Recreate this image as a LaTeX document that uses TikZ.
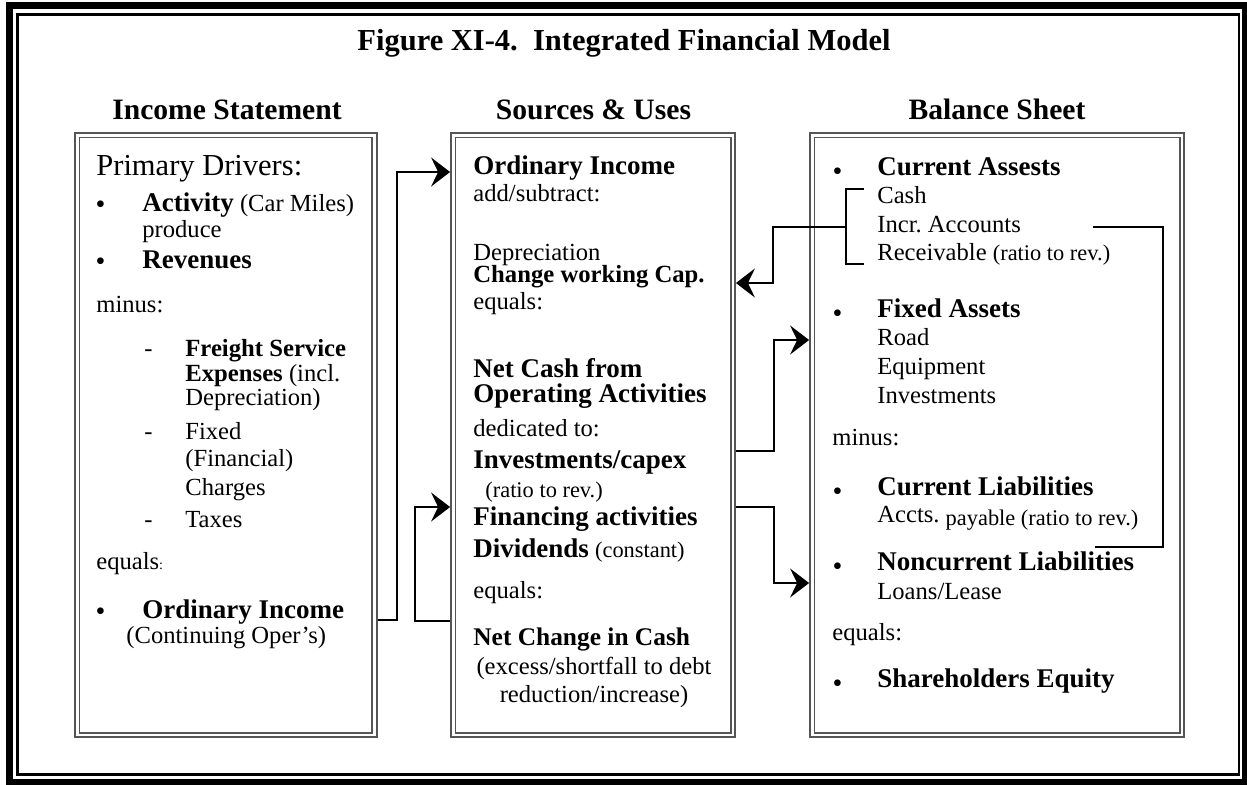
\documentclass[tikz,border=0pt]{standalone}
\usepackage{fontspec}
\setmainfont{Liberation Serif}
\usetikzlibrary{arrows.meta,fit}
\frenchspacing

\definecolor{boxgray}{RGB}{85,85,85}

% font sizes
\newcommand{\fTitle}{\fontsize{15.25}{18}\selectfont\bfseries}
\newcommand{\fHead}{\fontsize{14.8}{17}\selectfont\bfseries}
\newcommand{\fPrim}{\fontsize{15.25}{18}\selectfont}
\newcommand{\fBig}{\fontsize{13.5}{16}\selectfont\bfseries}
\newcommand{\fBold}{\fontsize{12.35}{14}\selectfont\bfseries}
\newcommand{\fTxt}{\fontsize{12.3}{14}\selectfont}
\newcommand{\fSmall}{\fontsize{11.2}{13}\selectfont}
\newcommand{\fTiny}{\fontsize{7}{8}\selectfont}

\begin{document}
\begin{tikzpicture}[x=0.5pt,y=-0.5pt,
    txt/.style={anchor=base west,inner sep=0pt,font=\fTxt},
    ctr/.style={txt,anchor=base},
    head/.style={anchor=base,inner sep=0pt,font=\fHead},
    bul/.style={anchor=base,inner sep=0pt,font=\fontsize{14}{14}\selectfont,yshift=#1},
    bul/.default=-1pt,
    panel/.style={draw=boxgray,double,line width=0.9pt,double distance=1.3pt,
        inner sep=0pt,outer sep=1.55pt},
    link/.style={line width=1pt},
    arr/.style={link,-{Stealth[length=9.5pt,width=14.5pt,inset=3.5pt]}}]
    \useasboundingbox (0,0) rectangle (1247,784);

    % frame
    \draw[line width=3.3pt] (9.5,5.5) rectangle (1245.3,782.3);
    \draw[line width=1.3pt] (17.5,14.2) rectangle (1239,774.5);

    % title and column heads
    \node[anchor=base,inner sep=0pt,font=\fTitle] (title) at (624,50)
        {Figure XI-4.\ \ Integrated Financial Model};
    \node[head] (hinc) at (227,119) {Income Statement};
    \node[head] (hsrc) at (593.5,119) {Sources \& Uses};
    \node[head] (hbal) at (997,119) {Balance Sheet};

    % the three panels
    \node[panel,fit={(77.2,135.2) (374.5,735.1)}] (inc) {};
    \node[panel,fit={(453.2,135.2) (732.8,735.1)}] (src) {};
    \node[panel,fit={(812.2,135.2) (1181.8,735.1)}] (bal) {};

    % income statement
    \node[txt,font=\fPrim] (i1) at (96,175) {Primary Drivers:};
    \node[bul] (ib1) at (100.5,211) {\textbullet};
    \node[txt] (i2) at (142,211) {{\fBig Activity} (Car Miles)};
    \node[txt] (i3) at (142,237) {produce};
    \node[bul] (ib2) at (100.5,268) {\textbullet};
    \node[txt,font=\fBig] (i4) at (142,268) {Revenues};
    \node[txt] (i5) at (96,312) {minus:};
    \node[txt] (id1) at (144,356) {-};
    \node[txt,font=\fBold] (i6) at (185,356) {Freight Service};
    \node[txt] (i7) at (185,381) {{\fBold Expenses} (incl.};
    \node[txt] (i8) at (185,405) {Depreciation)};
    \node[txt] (id2) at (144,439) {-};
    \node[txt] (i9) at (185,439) {Fixed};
    \node[txt] (i10) at (185,466) {(Financial)};
    \node[txt] (i11) at (185,495) {Charges};
    \node[txt] (id3) at (144,527) {-};
    \node[txt] (i12) at (185,527) {Taxes};
    \node[txt] (i13) at (96,569) {equals{\fTiny :}};
    \node[bul] (ib3) at (100.5,618) {\textbullet};
    \node[txt,font=\fBig] (oiL) at (142,618) {Ordinary Income};
    \node[txt] (i14) at (126,643) {(Continuing Oper's)};

    % sources and uses
    \node[txt,font=\fBig] (oiM) at (473,174) {Ordinary Income};
    \node[txt] (s1) at (473,201) {add/subtract:};
    \node[txt] (s2) at (473,260) {Depreciation};
    \node[txt,font=\fBold] (cwc) at (473,282) {Change working Cap.};
    \node[txt] (s3) at (473,309) {equals:};
    \node[txt,font=\fBig] (ncf) at (473,377) {Net Cash from};
    \node[txt,font=\fBig] (s4) at (473,402) {Operating Activities};
    \node[txt] (s5) at (473,436) {dedicated to:};
    \node[txt,font=\fBig] (inv) at (473,468) {Investments/capex};
    \node[txt,font=\fSmall] (s6) at (485,497) {(ratio to rev.)};
    \node[txt,font=\fBig] (fin) at (473,525) {Financing activities};
    \node[txt] (s7) at (473,557) {{\fBig Dividends} {\fSmall (constant)}};
    \node[txt] (s8) at (473,598) {equals:};
    \node[txt,font={\fontsize{12.7}{15}\selectfont\bfseries}] (nch) at (473,645)
        {Net Change in Cash};
    \node[ctr] (s9) at (594,674) {(excess/shortfall to debt};
    \node[ctr] (s10) at (594,702) {reduction/increase)};

    % balance sheet
    \node[bul=-2.5pt] (bb1) at (837.5,175) {\textbullet};
    \node[txt,font=\fBig] (ca) at (877,175) {Current Assests};
    \node[txt] (b1) at (877,203) {Cash};
    \node[txt] (iac) at (877,232) {Incr. Accounts};
    \node[txt] (b2) at (877,260) {Receivable {\fSmall (ratio to rev.)}};
    \node[bul=-2.5pt] (bb2) at (837.5,317) {\textbullet};
    \node[txt,font=\fBig] (fa) at (877,317) {Fixed Assets};
    \node[txt] (b3) at (877,345) {Road};
    \node[txt] (b4) at (877,374) {Equipment};
    \node[txt] (b5) at (877,403) {Investments};
    \node[txt] (b6) at (832,445) {minus:};
    \node[bul=-2.5pt] (bb3) at (837.5,495) {\textbullet};
    \node[txt,font=\fBig] (cl) at (877,495) {Current Liabilities};
    \node[txt] (b7) at (877,522) {Accts. \raisebox{-1.5pt}{\fSmall payable (ratio to rev.)}};
    \node[bul=-2.5pt] (bb4) at (837.5,570) {\textbullet};
    \node[txt,font=\fBig] (ncl) at (877,570) {Noncurrent Liabilities};
    \node[txt] (b8) at (877,599) {Loans/Lease};
    \node[txt] (b9) at (832,640) {equals:};
    \node[bul=-2.5pt] (bb5) at (837.5,687) {\textbullet};
    \node[txt,font=\fBig] (se) at (877,687) {Shareholders Equity};

    % ordinary income into sources
    \coordinate (a1) at (397,620);
    \coordinate (a2) at (397,172);
    \draw[arr] (inc.east |- a1) -- (a1) -- (a2) -- (src.west |- a2);

    % net change in cash back into financing
    \coordinate (b1) at (415,621);
    \coordinate (b2) at (415,507);
    \draw[arr] (src.west |- b1) -- (b1) -- (b2) -- (src.west |- b2);

    % investments to fixed assets
    \coordinate (c1) at (774,451);
    \coordinate (c2) at (774,340);
    \draw[arr] (src.east |- c1) -- (c1) -- (c2) -- (bal.west |- c2);

    % financing to noncurrent liabilities
    \coordinate (d1) at (774,507);
    \coordinate (d2) at (774,583);
    \draw[arr] (src.east |- d1) -- (d1) -- (d2) -- (bal.west |- d2);

    % current assets bracket to working capital
    \coordinate (k1) at (864,189);
    \coordinate (k2) at (864,264);
    \coordinate (kx) at (846,227);
    \draw[link] (k1) -| (kx |- k2) -- (k2);
    \coordinate (e1) at (773,227);
    \coordinate (e2) at (773,283);
    \draw[arr] (kx) -- (e1) -- (e2) -- (src.east |- e2);

    % receivables tied to payables
    \coordinate (f1) at (1093,227);
    \coordinate (f2) at (1163,547);
    \coordinate (f3) at (1095,547);
    \draw[link] (f1) -| (f2) -- (f3);
\end{tikzpicture}
\end{document}
